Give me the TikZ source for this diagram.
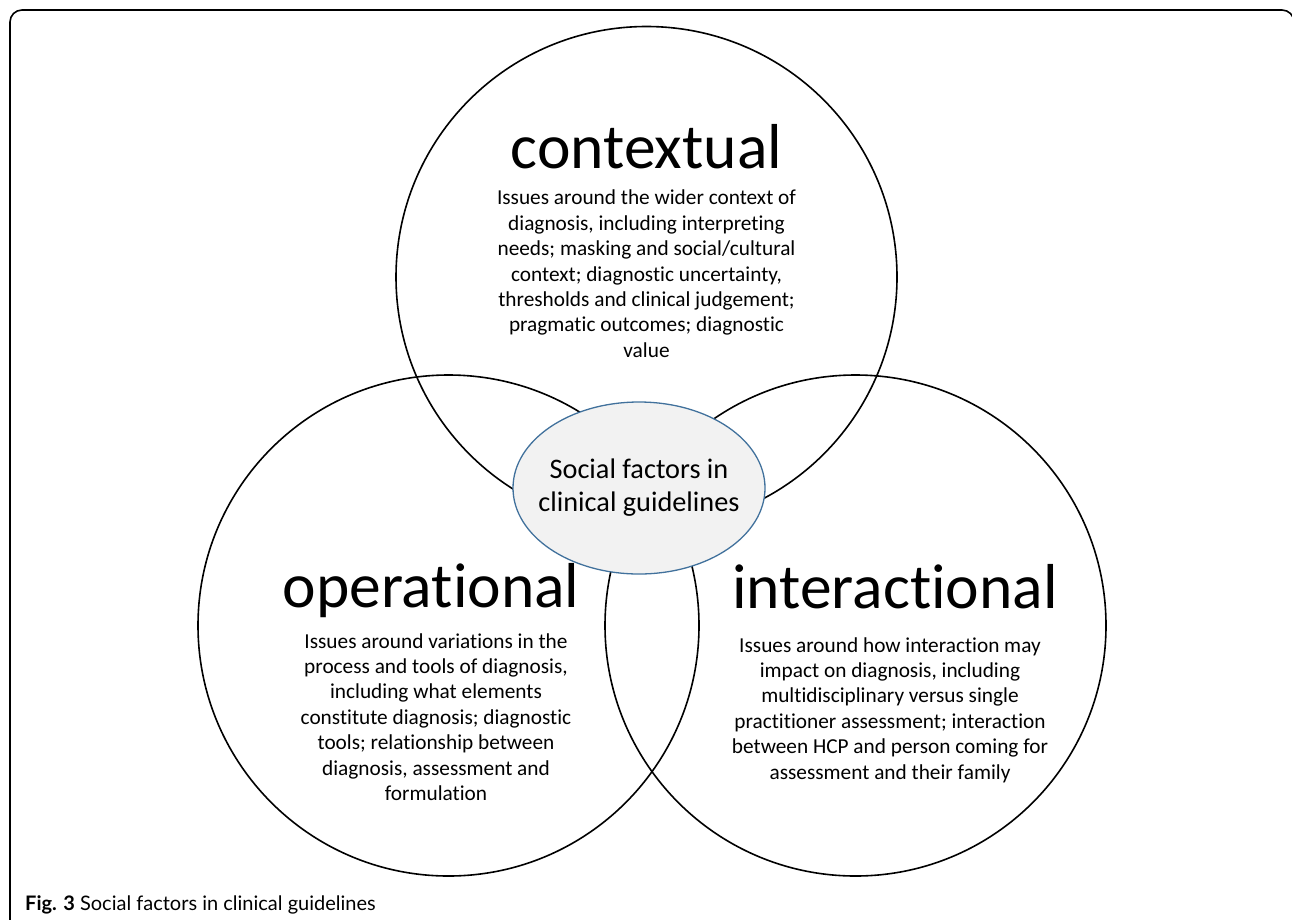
\documentclass[tikz,border=0pt]{standalone}
\usepackage{fontspec}
\setmainfont{Carlito}[Ligatures={NoCommon,NoContextual}]
\newfontfamily\capfamily{Lato}
\usepackage{tikz}
\usetikzlibrary{shapes.geometric}
\definecolor{ink}{RGB}{0,0,0}
\definecolor{hubline}{RGB}{65,113,156}
\definecolor{hubfill}{RGB}{242,242,242}
\tikzset{
  ring/.style={circle,draw=ink,line width=1.6pt,minimum size=501pt,inner sep=0},
  hub/.style={ellipse,draw=hubline,fill=hubfill,line width=1.3pt,minimum width=252pt,minimum height=172pt,inner sep=0},
  head/.style={font=\fontsize{63.5}{70}\selectfont,text=ink,inner sep=0,anchor=base},
  blurb/.style={font=\fontsize{21.3}{25.4}\selectfont,text=ink,align=center,inner sep=0,anchor=north}
}

\begin{document}
\begin{tikzpicture}[x=1pt,y=-1pt]
    \useasboundingbox (0,0) rectangle (1292,919);
    \clip (0,0) rectangle (1292,919);
    \draw[ink,line width=1.6pt,rounded corners=12pt] (10,10) rectangle (1294,960);
    \node[ring] (ctx) at (646.5,277) {};
    \node[ring] (ops) at (448.5,625.5) {};
    \node[ring] (act) at (855.5,625.5) {};
    \node[hub] (hub) at (639,488) {};
    \node[align=center,inner sep=0,font=\fontsize{28.3}{33}\selectfont,text=ink] (hubtext) at (hub)
      {Social factors in\\clinical guidelines};
    \node[head] (ctxhead) at (646.5,168) {contextual};
    \node[blurb] (ctxtext) at (646.5,190) {Issues around the wider context of\\diagnosis, including interpreting\\
      needs; masking and social/cultural\\context; diagnostic uncertainty,\\thresholds and clinical judgement;\\
      pragmatic outcomes; diagnostic\\value};
    \node[head] (opshead) at (431,607) {operational};
    \node[blurb] (opstext) at (436,633) {Issues around variations in the\\process and tools of diagnosis,\\
      including what elements\\constitute diagnosis; diagnostic\\tools; relationship between\\
      diagnosis, assessment and\\formulation};
    \node[head] (acthead) at (895,608) {interactional};
    \node[blurb] (acttext) at (890,637) {Issues around how interaction may\\impact on diagnosis, including\\
      multidisciplinary versus single\\practitioner assessment; interaction\\between HCP and person coming for\\
      assessment and their family};
    \node[anchor=base west,inner sep=0,font=\capfamily\fontsize{20}{23}\selectfont,text=ink]
      (caption) at (25,910) {\textbf{Fig. 3} Social factors in clinical guidelines};
\end{tikzpicture}
\end{document}
